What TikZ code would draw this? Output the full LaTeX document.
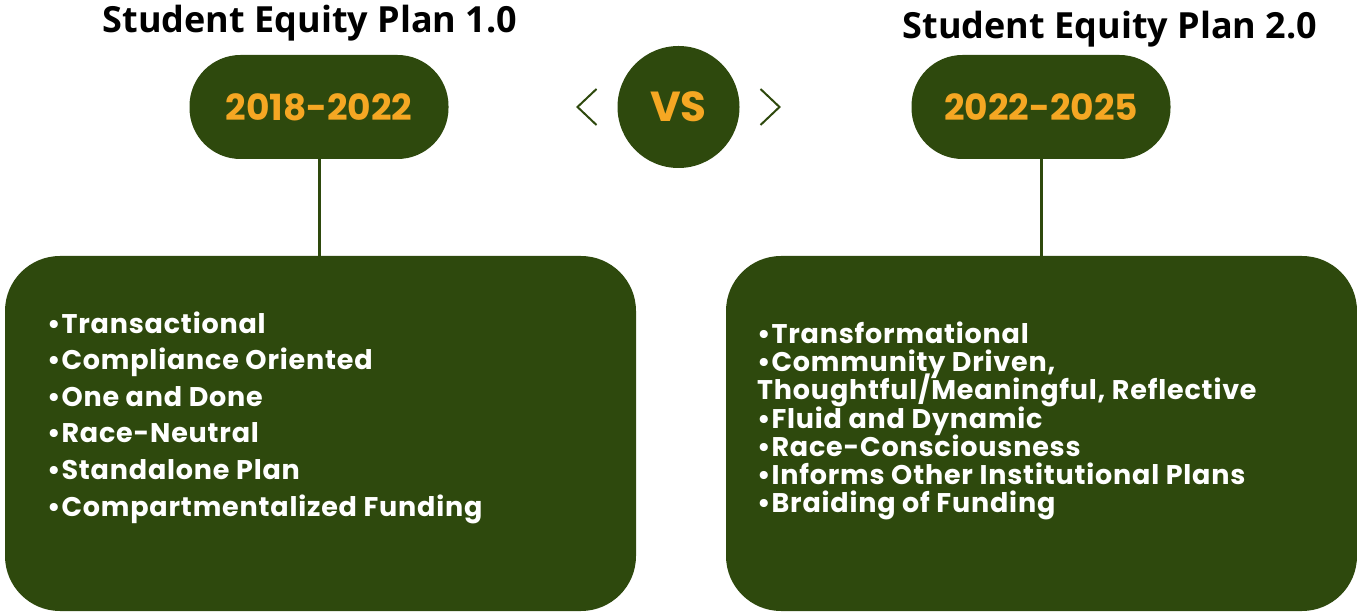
\documentclass[tikz,border=0pt]{standalone}
\usepackage{fontspec}
\setmainfont{Poppins}
\newfontfamily\titlefont{Open Sans}
\newfontfamily\listfont[LetterSpace=3]{Poppins}
\usetikzlibrary{positioning}
\definecolor{planGreen}{RGB}{46,73,13}
\definecolor{planGold}{RGB}{245,167,35}
\newcommand*{\ChevronGap}{82}
\newcommand*{\TightLines}{\setlength{\lineskiplimit}{-100pt}}

\begin{document}
\begin{tikzpicture}[x=1pt,y=1pt,
    pill/.style={fill=planGreen, draw=none, rounded corners=51pt,
      minimum width=259pt, minimum height=104pt, text=planGold,
      font=\fontsize{36}{40}\selectfont\bfseries},
    listbox/.style={fill=planGreen, draw=none, rounded corners=55pt,
      minimum width=631pt, minimum height=355pt},
    listtext/.style={text=white, align=left, anchor=west, inner sep=0pt},
    heading/.style={font=\titlefont\fontsize{36}{40}\selectfont\bfseries},
    stem/.style={planGreen, line width=3pt}]
        \useasboundingbox (0,0) rectangle (1357,613);
        % headings and year pills
        \node[heading] (title1) at (310,590) {Student Equity Plan 1.0};
        \node[heading] (title2) at (1110,584) {Student Equity Plan 2.0};
        \node[pill] (pill1) at (319,506) {2018-2022};
        \node[pill] (pill2) at (1041,506) {2022-2025};
        \node[circle, fill=planGreen, minimum size=122pt, text=planGold,
          font=\fontsize{42}{46}\selectfont\bfseries] (vs) at (678.5,506) {VS};
        \draw[planGreen, line width=2pt]
          ([xshift=-\ChevronGap pt, yshift=18pt]vs.center) -- ++(-19,-18) -- ++(19,-18);
        \draw[planGreen, line width=2pt]
          ([xshift=\ChevronGap pt, yshift=18pt]vs.center) -- ++(19,-18) -- ++(-19,-18);
        % the two lists
        \node[listbox] (box1) at (320.5,179.5) {};
        \node[listbox] (box2) at (1041.5,179.5) {};
        \draw[stem] (pill1.south) -- (pill1.south |- box1.north);
        \draw[stem] (pill2.south) -- (pill2.south |- box2.north);
        \node[listtext, font=\listfont\fontsize{27}{36.6}\selectfont\bfseries\TightLines]
          (list1) at (47,195.5) {\textbullet Transactional\\
          \textbullet Compliance Oriented\\
          \textbullet One and Done\\
          \textbullet Race-Neutral\\
          \textbullet Standalone Plan\\
          \textbullet Compartmentalized Funding};
        \node[listtext, font=\listfont\fontsize{27}{28.2}\selectfont\bfseries\TightLines]
          (list2) at (757,192) {\textbullet Transformational\\
          \textbullet Community Driven,\\
          Thoughtful/Meaningful, Reflective\\
          \textbullet Fluid and Dynamic\\
          \textbullet Race-Consciousness\\
          \textbullet Informs Other Institutional Plans\\
          \textbullet Braiding of Funding};
    \end{tikzpicture}
\end{document}
